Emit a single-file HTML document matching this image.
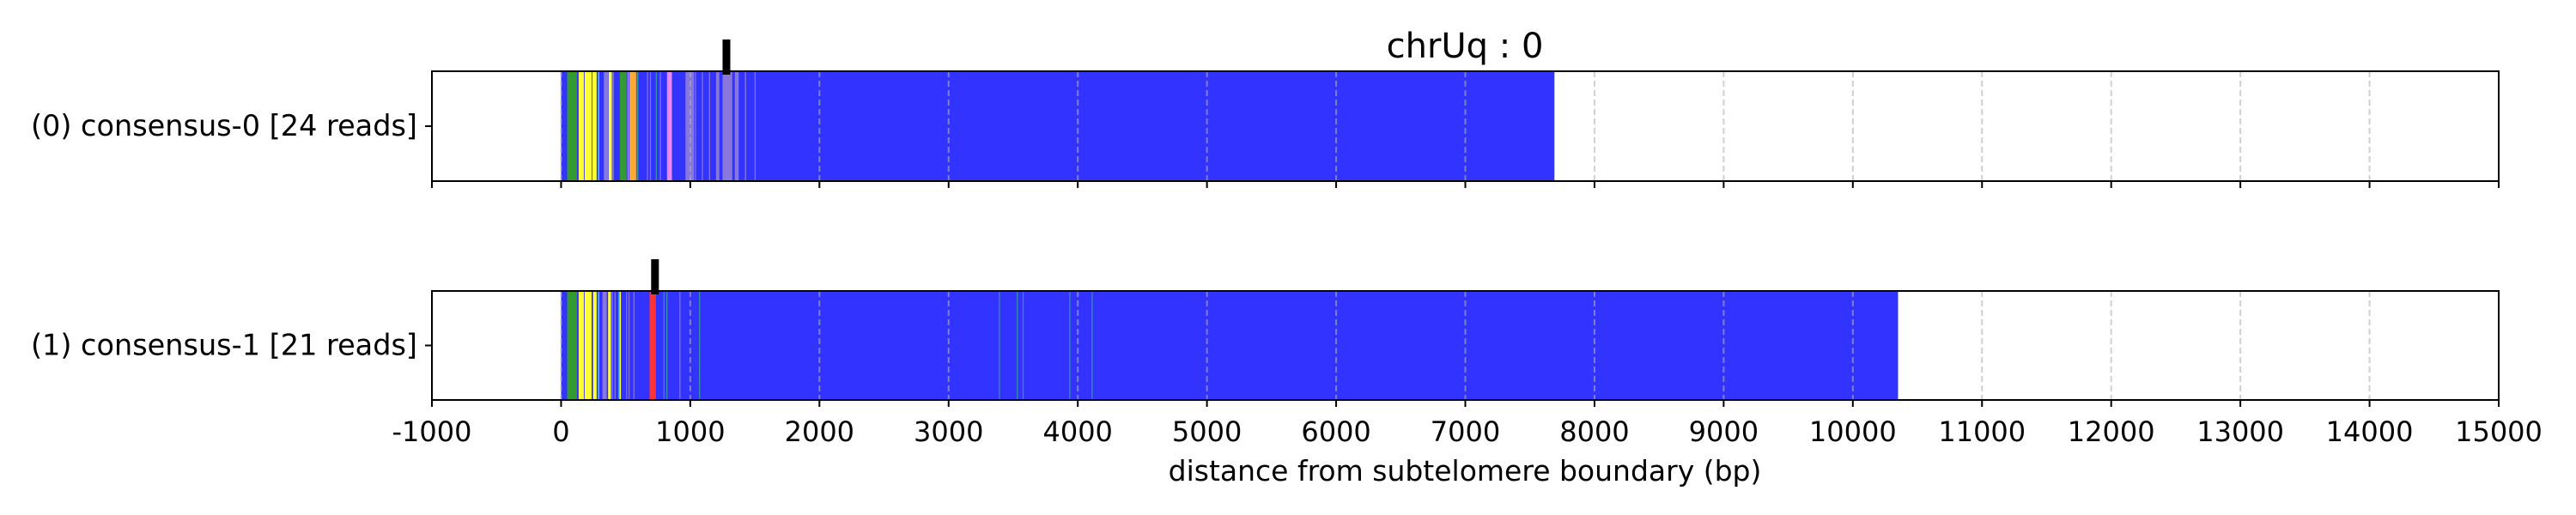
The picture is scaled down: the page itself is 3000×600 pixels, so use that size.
<!DOCTYPE html>
<html><head><meta charset="utf-8"><style>
html,body{margin:0;padding:0;background:#fff;}
svg{display:block;font-family:"DejaVu Sans","Liberation Sans",sans-serif;}
</style></head><body>
<svg id="chart" width="3000" height="600" viewBox="0 0 3000 600" xmlns="http://www.w3.org/2000/svg">
<text x="1706" y="67" font-size="40" text-anchor="middle">chrUq : 0</text>
<text x="1706" y="560" font-size="33" text-anchor="middle">distance from subtelomere boundary (bp)</text>
</svg>
<script>
const xTicks = [-1000,0,1000,2000,3000,4000,5000,6000,7000,8000,9000,10000,11000,12000,13000,14000,15000];
const trackLabels = ["(0) consensus-0 [24 reads]", "(1) consensus-1 [21 reads]"];
const trackEnds = [7690, 10350];
const markerPos = [1280, 727];
const colorNames = {B:"#3333ff",G:"#339933",Y:"#ffff33",O:"#ffaa33",V:"#ee88ee",P:"#8877dd",C:"#33ffff",T:"#339999",R:"#ff3333",W:"#5555ff"};
// segments [start, end, colorKey] in bp (blue background fills to end)
const track0Segments = [[47,123,"G"],[136,176,"Y"],[182,236,"Y"],[242,275,"Y"],[287,293,"C"],[331,364,"P"],[368,393,"Y"],[397,408,"P"],[455,508,"G"],[515,522,"O"],[530,581,"O"],[585,598,"T"],[665,672,"P"],[688,694,"P"],[733,737,"T"],[765,770,"P"],[820,858,"V"],[963,1029,"P"],[1036,1042,"P"],[1090,1096,"P"],[1145,1150,"P"],[1200,1225,"P"],[1250,1325,"P"],[1345,1375,"P"],[1423,1432,"P"],[1498,1504,"P"]];
const track1Segments = [[47,123,"G"],[136,176,"Y"],[182,236,"Y"],[248,275,"Y"],[287,293,"C"],[320,353,"P"],[364,386,"Y"],[392,400,"P"],[414,420,"P"],[446,453,"C"],[455,461,"Y"],[503,509,"P"],[522,528,"P"],[560,566,"P"],[685,734,"R"],[793,797,"T"],[815,819,"T"],[916,922,"P"],[1068,1072,"T"],[3389,3392,"T"],[3528,3531,"T"],[3573,3576,"T"],[3934,3937,"T"],[4107,4110,"T"]];
const trackSegments = [track0Segments, track1Segments];

const NS = "http://www.w3.org/2000/svg";
const svg = document.getElementById("chart");
const X0 = 503, X1 = 2910, D0 = -1000, D1 = 15000;
function xs(v){ return X0 + (v - D0) / (D1 - D0) * (X1 - X0); }
const panels = [{top:83,bottom:211},{top:339,bottom:466}];
function mk(tag, attrs){ const e=document.createElementNS(NS,tag); for(const k in attrs) e.setAttribute(k,attrs[k]); svg.appendChild(e); return e; }

panels.forEach((p, i) => {
  const h = p.bottom - p.top;
  const bg = mk("rect",{x:xs(0),y:p.top,width:xs(trackEnds[i])-xs(0),height:h,fill:colorNames.B});
  
  
  trackSegments[i].forEach((s, j) => {
    const r = mk("rect",{x:xs(s[0]),y:p.top,width:Math.max(1.2,xs(s[1])-xs(s[0])),height:h,fill:colorNames[s[2]]});
    
    
  });
  xTicks.forEach(t => {
    const g = mk("line",{x1:xs(t),x2:xs(t),y1:p.top,y2:p.bottom,stroke:"rgba(176,176,176,0.6)","stroke-width":2,"stroke-dasharray":"7,4"});
    
    
    const tk = mk("line",{x1:xs(t),x2:xs(t),y1:p.bottom,y2:p.bottom+8,stroke:"#000","stroke-width":2});
    
    
  });
  const fr = mk("rect",{x:X0,y:p.top,width:X1-X0,height:h,fill:"none",stroke:"#000","stroke-width":2});
  
  
  const cy = (p.top + p.bottom) / 2;
  const yt = mk("line",{x1:X0-8,x2:X0,y1:cy,y2:cy,stroke:"#000","stroke-width":2});
  
  
  const lb = mk("text",{x:X0-17,y:cy+11,"font-size":33.5,"text-anchor":"end"});
  lb.textContent = trackLabels[i];
  
  
  const m = mk("rect",{x:xs(markerPos[i])-4.5,y:p.top-37,width:9,height:41,fill:"#000"});
  
  
});
xTicks.forEach(t => {
  const tl = mk("text",{x:xs(t),y:514,"font-size":32,"text-anchor":"middle"});
  tl.textContent = String(t);
  
  
});
</script>
</body></html>
